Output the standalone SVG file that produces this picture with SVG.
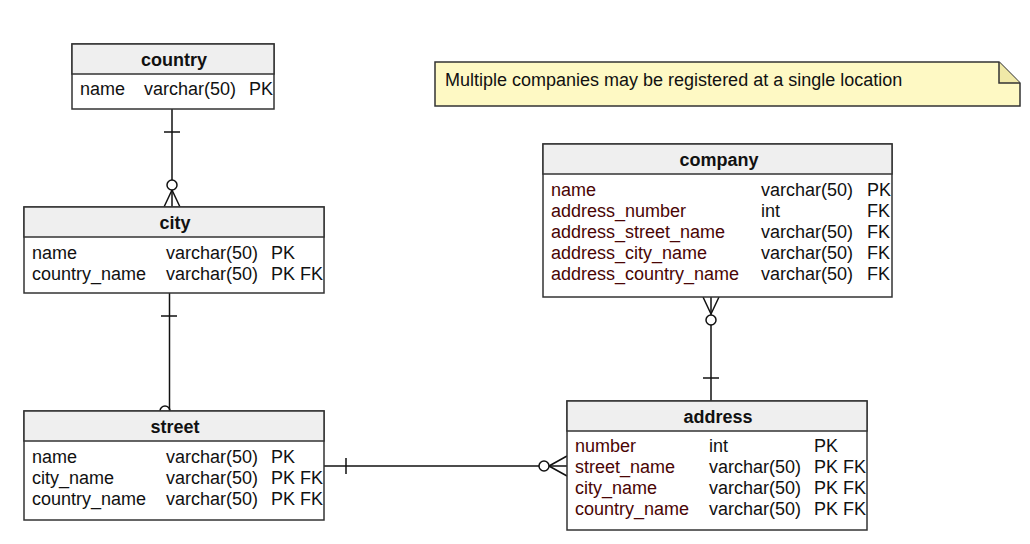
<svg xmlns="http://www.w3.org/2000/svg" width="1030" height="544" viewBox="0 0 1030 544">
<style>
text{font-family:"Liberation Sans",Arial,sans-serif;font-size:18px;fill:#111}
.h{font-weight:bold;text-anchor:middle}
.box{fill:#fff;stroke:#333;stroke-width:1.5}
.hd{fill:#efefef;stroke:#333;stroke-width:1.5}
.r{fill:#4a0505}
.c line,.c path{stroke:#111;stroke-width:1.5;fill:none}
.c circle{stroke:#111;stroke-width:1.5;fill:#fff}
</style>
<rect width="1030" height="544" fill="#fff"/>
<g id="note">
<path d="M435 62 H999 L1020 83 V106 H435 Z" fill="#fef9c4" stroke="#333" stroke-width="1.5"/>
<path d="M999 62 V83 H1020" fill="#f0e9a8" stroke="#333" stroke-width="1.5"/>
<text x="445" y="86">Multiple companies may be registered at a single location</text>
</g>
<g class="c" id="connectors">
<line x1="172" y1="109" x2="172" y2="207"/>
<line x1="164" y1="132" x2="180" y2="132"/>
<path d="M172 190 L164 207 M172 190 L180 207"/>
<circle cx="172" cy="185" r="5"/>
<line x1="169.5" y1="293" x2="169.5" y2="411"/>
<line x1="161" y1="316" x2="177" y2="316"/>
<path d="M160 411 A5 5 0 0 1 170 411"/>
<line x1="324" y1="466" x2="567" y2="466"/>
<line x1="346" y1="458" x2="346" y2="474"/>
<path d="M549 466 L567 456 M549 466 L567 476"/>
<circle cx="544" cy="466" r="5"/>
<line x1="711" y1="297" x2="711" y2="401"/>
<line x1="703" y1="378" x2="719" y2="378"/>
<path d="M711 314 L703 297 M711 314 L719 297"/>
<circle cx="711" cy="320" r="5"/>
</g>
<g id="country">
<rect class="box" x="72" y="44" width="202" height="65"/>
<rect class="hd" x="72" y="44" width="202" height="30"/>
<text class="h" x="174" y="66">country</text>
<text x="80" y="95">name</text><text x="144" y="95">varchar(50)</text><text x="249" y="95">PK</text>
</g>
<g id="city">
<rect class="box" x="24" y="207" width="300" height="86"/>
<rect class="hd" x="24" y="207" width="300" height="30"/>
<text class="h" x="175" y="229">city</text>
<text x="32" y="259">name</text><text x="166" y="259">varchar(50)</text><text x="271" y="259">PK</text>
<text x="32" y="280">country_name</text><text x="166" y="280">varchar(50)</text><text x="271" y="280">PK FK</text>
</g>
<g id="street">
<rect class="box" x="24" y="411" width="300" height="109"/>
<rect class="hd" x="24" y="411" width="300" height="30"/>
<text class="h" x="175" y="433">street</text>
<text x="32" y="463">name</text><text x="166" y="463">varchar(50)</text><text x="271" y="463">PK</text>
<text x="32" y="484">city_name</text><text x="166" y="484">varchar(50)</text><text x="271" y="484">PK FK</text>
<text x="32" y="505">country_name</text><text x="166" y="505">varchar(50)</text><text x="271" y="505">PK FK</text>
</g>
<g id="company">
<rect class="box" x="543" y="144" width="349" height="153"/>
<rect class="hd" x="543" y="144" width="349" height="30"/>
<text class="h" x="719" y="166">company</text>
<text class="r" x="551" y="196">name</text><text x="761" y="196">varchar(50)</text><text x="867" y="196">PK</text>
<text class="r" x="551" y="217">address_number</text><text x="761" y="217">int</text><text x="867" y="217">FK</text>
<text class="r" x="551" y="238">address_street_name</text><text x="761" y="238">varchar(50)</text><text x="867" y="238">FK</text>
<text class="r" x="551" y="259">address_city_name</text><text x="761" y="259">varchar(50)</text><text x="867" y="259">FK</text>
<text class="r" x="551" y="280">address_country_name</text><text x="761" y="280">varchar(50)</text><text x="867" y="280">FK</text>
</g>
<g id="address">
<rect class="box" x="567" y="401" width="300" height="129"/>
<rect class="hd" x="567" y="401" width="300" height="30"/>
<text class="h" x="718" y="423">address</text>
<text class="r" x="575" y="452">number</text><text x="709" y="452">int</text><text x="814" y="452">PK</text>
<text class="r" x="575" y="473">street_name</text><text x="709" y="473">varchar(50)</text><text x="814" y="473">PK FK</text>
<text class="r" x="575" y="494">city_name</text><text x="709" y="494">varchar(50)</text><text x="814" y="494">PK FK</text>
<text class="r" x="575" y="515">country_name</text><text x="709" y="515">varchar(50)</text><text x="814" y="515">PK FK</text>
</g>
</svg>
